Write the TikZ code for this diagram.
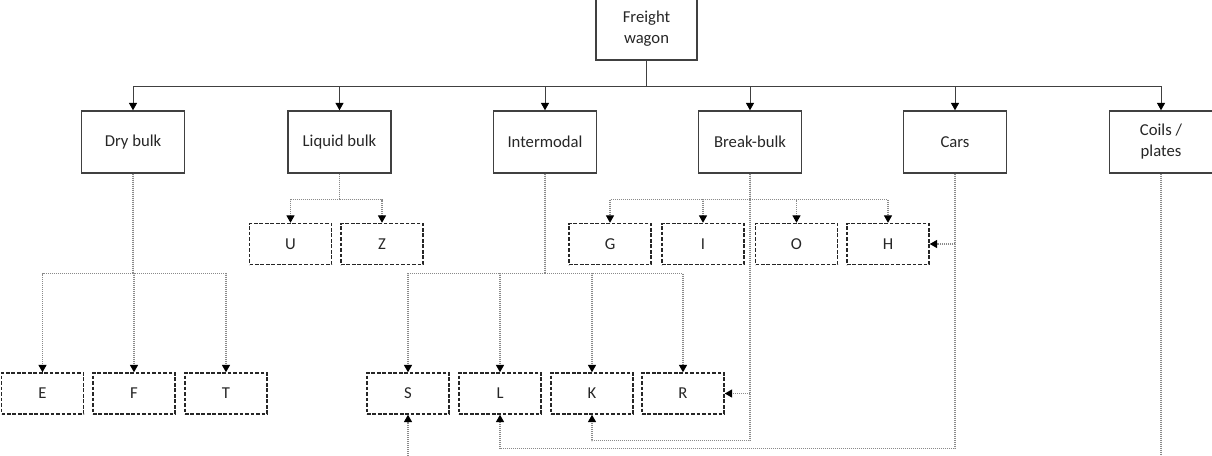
\documentclass[tikz,border=0pt]{standalone}
\usepackage{fontspec}
\setmainfont{Carlito}
\usetikzlibrary{arrows.meta}
\definecolor{linec}{HTML}{404040}
\definecolor{dotc}{HTML}{8A8A8A}
\tikzset{
  mainbox/.style={draw=linec, line width=1.1pt, minimum width=77pt, minimum height=46.5pt,
    inner sep=2pt, align=center, font=\fontsize{12.5}{15.75}\selectfont, text=black!85},
  subbox/.style={draw=black!85, line width=1.1pt, dash pattern=on 2.8pt off 1.3pt,
    minimum width=61.5pt, minimum height=30.75pt, inner sep=2pt,
    font=\fontsize{12.5}{15}\selectfont, text=black!85},
  mainline/.style={draw=linec, line width=0.65pt, -{Triangle[width=6pt,length=5.5pt,color=black]}},
  subline/.style={draw=dotc, line width=0.8pt, dash pattern=on 0.75pt off 0.75pt,
    -{Triangle[width=6pt,length=5.5pt,fill=black,color=black]}},
  plainsub/.style={draw=dotc, line width=0.8pt, dash pattern=on 0.75pt off 0.75pt}
}
\begin{document}
\begin{tikzpicture}[x=0.75pt,y=-0.75pt]
\useasboundingbox (0,0) rectangle (1212,455);
\clip (0,0) rectangle (1212,455);
% top node
\node[mainbox, minimum width=76pt] (fw) at (646.5,29) {Freight\\wagon};
% level 1
\node[mainbox] (dry)   at (133,142) {Dry bulk};
\node[mainbox] (liq)   at (339.5,142) {Liquid bulk};
\node[mainbox] (inter) at (545,142) {Intermodal};
\node[mainbox] (brk)   at (750,142) {Break-bulk};
\node[mainbox] (cars)  at (955,142) {Cars};
\node[mainbox] (coils) at (1161,142) {Coils /\\plates};
% level 2
\node[subbox] (U) at (290.5,244) {U};
\node[subbox] (Z) at (382,244) {Z};
\node[subbox] (G) at (610,244) {G};
\node[subbox] (I) at (703,244) {I};
\node[subbox] (O) at (796.5,244) {O};
\node[subbox] (H) at (888,244) {H};
% level 3
\node[subbox] (E) at (42.5,393.5) {E};
\node[subbox] (F) at (134,393.5) {F};
\node[subbox] (T) at (226,393.5) {T};
\node[subbox] (S) at (408,393.5) {S};
\node[subbox] (L) at (500,393.5) {L};
\node[subbox] (K) at (592,393.5) {K};
\node[subbox] (R) at (683,393.5) {R};
% free ends below the picture
\coordinate (coilsend) at (1161,480);
\coordinate (sstart) at (408,480);
% main tree
\foreach \t in {dry,liq,inter,brk,cars,coils}
  \draw[mainline] (fw.south) -- ++(0,26) -| (\t.north);
% dry bulk
\foreach \t in {E,F,T}
  \draw[subline] (dry.south) -- ++(0,100) -| (\t.north);
% liquid bulk
\foreach \t in {U,Z}
  \draw[subline] (liq.south) -- ++(0,26) -| (\t.north);
% intermodal
\foreach \t in {S,L,K,R}
  \draw[subline] (inter.south) -- ++(0,100) -| (\t.north);
% break-bulk
\foreach \t in {G,I,O,H}
  \draw[subline] (brk.south) -- ++(0,26) -| (\t.north);
\draw[subline] (brk.south) |- (R.east);
\draw[subline] (brk.south) -- ++(0,267) -| (K.south);
% cars
\draw[subline] (cars.south) |- (H.east);
\draw[subline] (cars.south) -- ++(0,275) -| (L.south);
% coils / plates
\draw[plainsub] (coils.south) -- (coilsend);
\draw[subline] (sstart) -- (S.south);
\end{tikzpicture}
\end{document}
